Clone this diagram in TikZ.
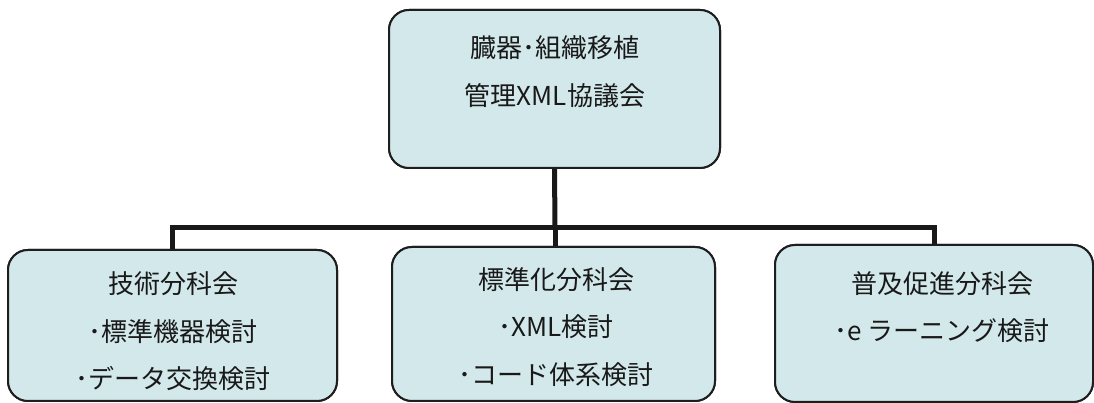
\documentclass[tikz,border=0pt]{standalone}
\usepackage{fontspec}
\setmainfont{Noto Sans CJK JP}
\definecolor{boxfill}{HTML}{D2E8EA}
\definecolor{boxline}{HTML}{1E1E1E}
\begin{document}
\begin{tikzpicture}[x=1pt,y=1pt,
  orgbox/.style={draw=boxline, line width=2pt, fill=boxfill, rounded corners=20pt, rectangle, inner sep=0pt},
  txt/.style={align=center, font=\fontsize{26}{47.5}\selectfont, text=black!90, inner sep=0pt},
  conn/.style={draw=black!90, line width=5pt}]
\useasboundingbox (0,0) rectangle (1094,403);
% boxes
\node[orgbox, minimum width=331pt, minimum height=158pt] (top) at (554.5,314) {};
\node[orgbox, minimum width=329pt, minimum height=151pt] (left) at (172.5,77.5) {};
\node[orgbox, minimum width=323pt, minimum height=154pt] (mid) at (553.5,79) {};
\node[orgbox, minimum width=318pt, minimum height=157pt] (right) at (934,79.5) {};
% connectors
\coordinate (bus) at (555,175);
\draw[conn] (top.south) -- (bus);
\draw[conn] (left.north) |- (bus) -| (right.north);
\draw[conn] (bus) -- (bus |- mid.north);
% redraw boxes over line ends
\node[orgbox, minimum width=331pt, minimum height=158pt] at (top) {};
\node[orgbox, minimum width=329pt, minimum height=151pt] at (left) {};
\node[orgbox, minimum width=323pt, minimum height=154pt] at (mid) {};
\node[orgbox, minimum width=318pt, minimum height=157pt] at (right) {};
% texts
\node[txt] (toptext) at (555,331.5) {臓器･組織移植\\管理XML協議会};
\node[txt] (lefttext) at (173,71.5) {技術分科会\\･標準機器検討\\･データ交換検討};
\node[txt] (midtext) at (556,76) {標準化分科会\\･XML検討\\･コード体系検討};
\node[txt] (righttext) at (942,96) {普及促進分科会\\･e ラーニング検討};
\end{tikzpicture}
\end{document}
